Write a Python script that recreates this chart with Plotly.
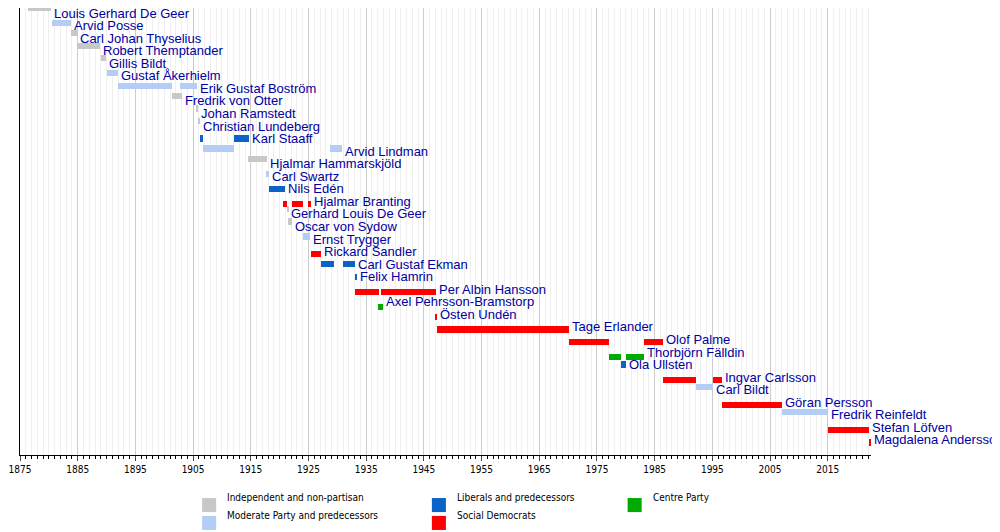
import plotly.graph_objects as go

names = ["Louis Gerhard De Geer", "Arvid Posse", "Carl Johan Thyselius", "Robert Themptander",
         "Gillis Bildt", "Gustaf Åkerhielm", "Erik Gustaf Boström", "Fredrik von Otter",
         "Johan Ramstedt", "Christian Lundeberg", "Karl Staaff", "Arvid Lindman",
         "Hjalmar Hammarskjöld", "Carl Swartz", "Nils Edén", "Hjalmar Branting",
         "Gerhard Louis De Geer", "Oscar von Sydow", "Ernst Trygger", "Rickard Sandler",
         "Carl Gustaf Ekman", "Felix Hamrin", "Per Albin Hansson", "Axel Pehrsson-Bramstorp",
         "Östen Undén", "Tage Erlander", "Olof Palme", "Thorbjörn Fälldin", "Ola Ullsten",
         "Ingvar Carlsson", "Carl Bildt", "Göran Persson", "Fredrik Reinfeldt",
         "Stefan Löfven", "Magdalena Andersson"]
parties = ["ind", "mod", "ind", "ind", "ind", "mod", "mod", "ind", "ind", "ind", "lib", "mod",
           "ind", "mod", "lib", "sd", "ind", "ind", "mod", "sd", "lib", "lib", "sd", "cen",
           "sd", "sd", "sd", "cen", "lib", "sd", "mod", "sd", "mod", "sd", "sd"]
terms = [
    [(1876.3, 1880.4)], [(1880.5, 1883.8)], [(1883.8, 1884.8)], [(1884.8, 1888.9)],
    [(1889.0, 1889.9)], [(1890.0, 1891.9)], [(1891.9, 1901.3), (1902.8, 1905.7)],
    [(1901.3, 1903.0)], [(1905.5, 1905.9)], [(1905.9, 1906.2)],
    [(1906.2, 1906.8), (1912.1, 1914.7)], [(1906.7, 1912.1), (1928.8, 1930.8)],
    [(1914.6, 1917.8)], [(1917.6, 1918.2)], [(1918.2, 1920.9)],
    [(1920.6, 1921.3), (1922.1, 1924.0), (1924.9, 1925.4)], [(1921.3, 1921.5)],
    [(1921.5, 1922.2)], [(1924.0, 1925.2)], [(1925.5, 1927.1)],
    [(1927.1, 1929.4), (1930.9, 1933.0)], [(1933.0, 1933.4)],
    [(1933.1, 1937.3), (1937.6, 1947.1)], [(1937.1, 1937.9)], [(1947.1, 1947.3)],
    [(1947.3, 1970.1)], [(1970.1, 1977.1), (1983.1, 1986.5)], [(1977.1, 1979.2), (1980.1, 1983.1)],
    [(1979.1, 1980.1)], [(1986.5, 1992.1), (1995.1, 1996.6)], [(1992.1, 1995.1)],
    [(1996.6, 2007.1)], [(2007.1, 2015.1)], [(2015.1, 2022.2)], [(2022.2, 2022.5)]]

party_names = {"ind": "Independent and non-partisan", "mod": "Moderate Party and predecessors",
               "lib": "Liberals and predecessors", "sd": "Social Democrats", "cen": "Centre Party"}
party_colors = {"ind": "#c8c8c8", "mod": "#b4cdf5", "lib": "#0a64c8", "sd": "#ff0000", "cen": "#00aa00"}
tick_years = list(range(1875, 2020, 10))

fig = go.Figure()
for p in party_colors:
    ys, bases, lens = [], [], []
    for i, (n, pp) in enumerate(zip(names, parties)):
        if pp != p:
            continue
        for s, e in terms[i]:
            ys.append(i); bases.append(s); lens.append(e - s)
    fig.add_trace(go.Bar(y=ys, x=lens, base=bases, orientation="h", marker_color=party_colors[p],
                         marker_line_width=0, width=0.5, showlegend=False, name=party_names[p]))

for i, n in enumerate(names):
    fig.add_annotation(x=terms[i][-1][1], y=i, text=n, showarrow=False, xanchor="left", xshift=1,
                       font=dict(size=13, color="#0000a0", family="Liberation Sans"))

# legend
leg = [("ind", 0.214, 0), ("mod", 0.214, 1), ("lib", 0.484, 0), ("sd", 0.484, 1), ("cen", 0.714, 0)]
for p, lx, row in leg:
    y0 = -0.112 - row * 0.040
    fig.add_shape(type="rect", xref="paper", yref="paper", x0=lx, x1=lx + 0.0165,
                  y0=y0 - 0.0157, y1=y0 + 0.0157, fillcolor=party_colors[p], line_width=0)
    fig.add_annotation(xref="paper", yref="paper", x=lx + 0.027, y=y0, text=party_names[p],
                       showarrow=False, xanchor="left",
                       font=dict(size=10, color="#000", family="DejaVu Sans Condensed, Liberation Sans, sans-serif"))

fig.update_layout(
    width=1000, height=532, plot_bgcolor="white", paper_bgcolor="white",
    margin=dict(l=12, r=137, t=0, b=85), bargap=0,
    xaxis=dict(range=[1875, 2022.5], tickvals=tick_years, ticks="outside", ticklen=5,
               showgrid=True, gridcolor="#cccccc", gridwidth=1, showline=True, linecolor="black",
               tickfont=dict(size=10, family="DejaVu Sans Condensed, Liberation Sans, sans-serif", color="black"),
               minor=dict(dtick=1, tick0=1875, showgrid=True, gridcolor="#efefef", ticks="outside",
                          ticklen=3, tickcolor="black"), zeroline=False),
    yaxis=dict(range=[35.2, -0.4], showticklabels=False, showgrid=False,
               showline=True, linecolor="black", zeroline=False),
)
fig.write_html("out.html")
